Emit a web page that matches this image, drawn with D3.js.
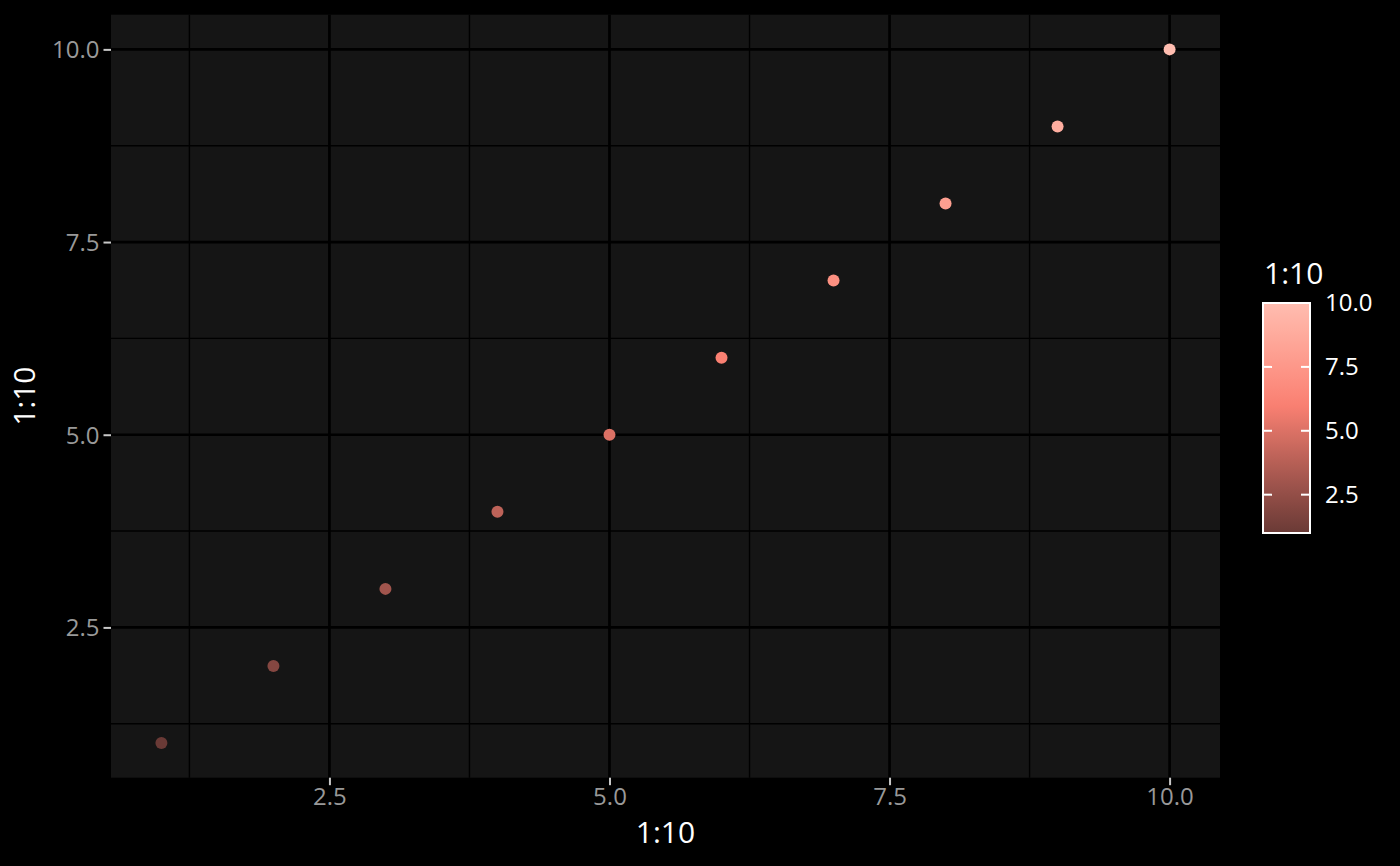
<!DOCTYPE html>
<html>
<head>
<meta charset="utf-8">
<script src="https://cdn.jsdelivr.net/npm/d3@7/dist/d3.min.js"></script>
<style>
html,body{margin:0;padding:0;background:#000;}
svg{display:block;font-family:"Open Sans","Noto Sans",sans-serif;}
</style>
</head>
<body>
<svg id="chart" width="1400" height="866"></svg>
<script>
const xValues = [1,2,3,4,5,6,7,8,9,10];
const yValues = [1,2,3,4,5,6,7,8,9,10];
const colorValues = [1,2,3,4,5,6,7,8,9,10];
const xTicks = [2.5,5.0,7.5,10.0];
const yTicks = [2.5,5.0,7.5,10.0];
const xMinor = [1.25,3.75,6.25,8.75];
const yMinor = [1.25,3.75,6.25,8.75];
const legendTicks = [2.5,5.0,7.5,10.0];
const colorStops = [1,6,10];
const colorRange = ["#6a3a36","#fa8072","#ffbdb0"];
const xTitle = "1:10", yTitle = "1:10", legendTitle = "1:10";

const svg = d3.select("#chart");
svg.append("rect").attr("width",1400).attr("height",866).attr("fill","#000");

const P = {l:111, r:1220, t:14.7, b:777.7};
const x = d3.scaleLinear().domain([0.55,10.45]).range([P.l,P.r]);
const y = d3.scaleLinear().domain([0.55,10.45]).range([P.b,P.t]);
const color = d3.scaleLinear().domain(colorStops).range(colorRange).interpolate(d3.interpolateLab);

svg.append("rect").attr("x",P.l).attr("y",P.t).attr("width",P.r-P.l).attr("height",P.b-P.t).attr("fill","#151515");

const g = svg.append("g");
// minor grid
g.selectAll(".vmin").data(xMinor).join("line")
  .attr("x1",d=>x(d)).attr("x2",d=>x(d)).attr("y1",P.t).attr("y2",P.b)
  .attr("stroke","#000").attr("stroke-width",1.4);
g.selectAll(".hmin").data(yMinor).join("line")
  .attr("y1",d=>y(d)).attr("y2",d=>y(d)).attr("x1",P.l).attr("x2",P.r)
  .attr("stroke","#000").attr("stroke-width",1.4);
// major grid
g.selectAll(".vmaj").data(xTicks).join("line")
  .attr("x1",d=>x(d)).attr("x2",d=>x(d)).attr("y1",P.t).attr("y2",P.b)
  .attr("stroke","#000").attr("stroke-width",2.7);
g.selectAll(".hmaj").data(yTicks).join("line")
  .attr("y1",d=>y(d)).attr("y2",d=>y(d)).attr("x1",P.l).attr("x2",P.r)
  .attr("stroke","#000").attr("stroke-width",2.7);

// axes
const fmt = d3.format(".1f");
const xAxis = svg.append("g").attr("transform",`translate(0,${P.b})`)
  .call(d3.axisBottom(x).tickValues(xTicks).tickFormat(fmt).tickSize(7.5).tickPadding(3));
const yAxis = svg.append("g").attr("transform",`translate(${P.l},0)`)
  .call(d3.axisLeft(y).tickValues(yTicks).tickFormat(fmt).tickSize(7.5).tickPadding(4));
[xAxis,yAxis].forEach(a=>{
  a.select(".domain").remove();
  a.selectAll(".tick line").attr("stroke","#c8c8c8").attr("stroke-width",2);
  a.selectAll(".tick text").attr("fill","#999999").attr("font-size","24px").attr("font-family","'Open Sans'");
});
yAxis.selectAll(".tick text").attr("dy","0.35em");

// points
g.selectAll(".pt").data(xValues).join("circle")
  .attr("cx",(d,i)=>x(xValues[i])).attr("cy",(d,i)=>y(yValues[i]))
  .attr("r",6).attr("fill",(d,i)=>color(colorValues[i]));

// axis titles
svg.append("text").attr("x",(P.l+P.r)/2).attr("y",843).attr("text-anchor","middle")
  .attr("fill","#fff").attr("font-size","30px").text(xTitle);
svg.append("text").attr("transform",`translate(35,${(P.t+P.b)/2}) rotate(-90)`).attr("text-anchor","middle")
  .attr("fill","#fff").attr("font-size","30px").text(yTitle);

// legend
const L = {x:1263, w:47};
const ly = d3.scaleLinear().domain([1,10]).range([533,303]);
const defs = svg.append("defs");
const grad = defs.append("linearGradient").attr("id","cbar").attr("x1",0).attr("x2",0).attr("y1",1).attr("y2",0);
d3.range(0,21).forEach(i=>{
  const v = 1 + 9*i/20;
  grad.append("stop").attr("offset",(i/20)).attr("stop-color",color(v));
});
svg.append("rect").attr("x",L.x).attr("y",ly(10)).attr("width",L.w).attr("height",ly(1)-ly(10))
  .attr("fill","url(#cbar)").attr("stroke","#fff").attr("stroke-width",2);
svg.selectAll(".lt1").data(legendTicks).join("line")
  .attr("x1",L.x).attr("x2",L.x+9).attr("y1",d=>ly(d)).attr("y2",d=>ly(d))
  .attr("stroke","#fff").attr("stroke-width",2);
svg.selectAll(".lt2").data(legendTicks).join("line")
  .attr("x1",L.x+L.w-9).attr("x2",L.x+L.w).attr("y1",d=>ly(d)).attr("y2",d=>ly(d))
  .attr("stroke","#fff").attr("stroke-width",2);
svg.selectAll(".ll").data(legendTicks).join("text")
  .attr("x",1325).attr("y",d=>ly(d)).attr("dy","0.35em")
  .attr("fill","#fff").attr("font-size","24px").text(d=>fmt(d));
svg.append("text").attr("x",1264).attr("y",284).attr("fill","#fff").attr("font-size","30px").text(legendTitle);
</script>
</body>
</html>
